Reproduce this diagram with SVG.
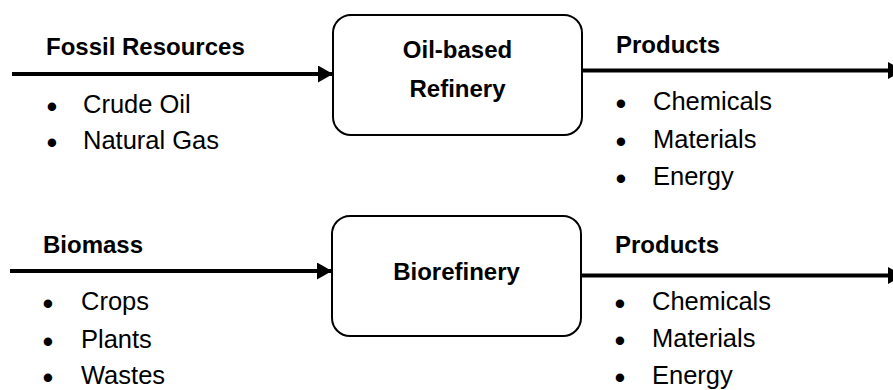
<svg xmlns="http://www.w3.org/2000/svg" width="893" height="390" viewBox="0 0 893 390">
  <defs>
    <marker id="arrow" markerUnits="userSpaceOnUse" markerWidth="15" markerHeight="17" refX="15" refY="8.5" orient="auto">
      <path d="M0,0 L15,8.5 L0,17 Z" fill="#000"/>
    </marker>
    <style>
      .box { fill: #fff; stroke: #000; stroke-width: 2; }
      .conn { stroke: #000; stroke-width: 4; fill: none; marker-end: url(#arrow); }
      .hd { font-family: "Liberation Sans", Arial, sans-serif; font-weight: bold; font-size: 24px; fill: #000; }
      .it { font-family: "Liberation Sans", Arial, sans-serif; font-size: 25.5px; fill: #000; }
      .b { font-size: 31px; text-anchor: middle; }
      .t { text-anchor: start; }
      .ctr { text-anchor: middle; }
    </style>
  </defs>
  <rect width="893" height="390" fill="#fff"/>

  <g id="connectors">
    <line class="conn" x1="12" y1="74" x2="333" y2="74"/>
    <line class="conn" x1="582" y1="70.5" x2="903" y2="70.5"/>
    <line class="conn" x1="10" y1="271" x2="332" y2="271"/>
    <line class="conn" x1="581" y1="275.5" x2="903" y2="275.5"/>
  </g>

  <g id="fossil-resources">
    <text class="hd" x="46" y="55">Fossil Resources</text>
    <text class="it"><tspan class="b" x="52" y="117">•</tspan><tspan class="t" x="83" y="113">Crude Oil</tspan></text>
    <text class="it"><tspan class="b" x="52" y="153">•</tspan><tspan class="t" x="83" y="149">Natural Gas</tspan></text>
  </g>

  <g id="oil-refinery">
    <rect class="box" x="333" y="15" width="249" height="120" rx="18" ry="18"/>
    <text class="hd ctr" x="457.5" y="58">Oil-based</text>
    <text class="hd ctr" x="457.5" y="97">Refinery</text>
  </g>

  <g id="products-1">
    <text class="hd" x="616" y="53">Products</text>
    <text class="it"><tspan class="b" x="621" y="114">•</tspan><tspan class="t" x="653" y="110">Chemicals</tspan></text>
    <text class="it"><tspan class="b" x="621" y="152">•</tspan><tspan class="t" x="653" y="148">Materials</tspan></text>
    <text class="it"><tspan class="b" x="621" y="189">•</tspan><tspan class="t" x="653" y="185">Energy</tspan></text>
  </g>

  <g id="biomass">
    <text class="hd" x="43" y="253">Biomass</text>
    <text class="it"><tspan class="b" x="48" y="314">•</tspan><tspan class="t" x="81" y="310">Crops</tspan></text>
    <text class="it"><tspan class="b" x="48" y="352">•</tspan><tspan class="t" x="81" y="348">Plants</tspan></text>
    <text class="it"><tspan class="b" x="48" y="388">•</tspan><tspan class="t" x="81" y="384">Wastes</tspan></text>
  </g>

  <g id="biorefinery">
    <rect class="box" x="332" y="216" width="249" height="120" rx="18" ry="18"/>
    <text class="hd ctr" x="456.5" y="280">Biorefinery</text>
  </g>

  <g id="products-2">
    <text class="hd" x="615" y="253">Products</text>
    <text class="it"><tspan class="b" x="620" y="314">•</tspan><tspan class="t" x="652" y="310">Chemicals</tspan></text>
    <text class="it"><tspan class="b" x="620" y="351">•</tspan><tspan class="t" x="652" y="347">Materials</tspan></text>
    <text class="it"><tspan class="b" x="620" y="388">•</tspan><tspan class="t" x="652" y="384">Energy</tspan></text>
  </g>
</svg>
